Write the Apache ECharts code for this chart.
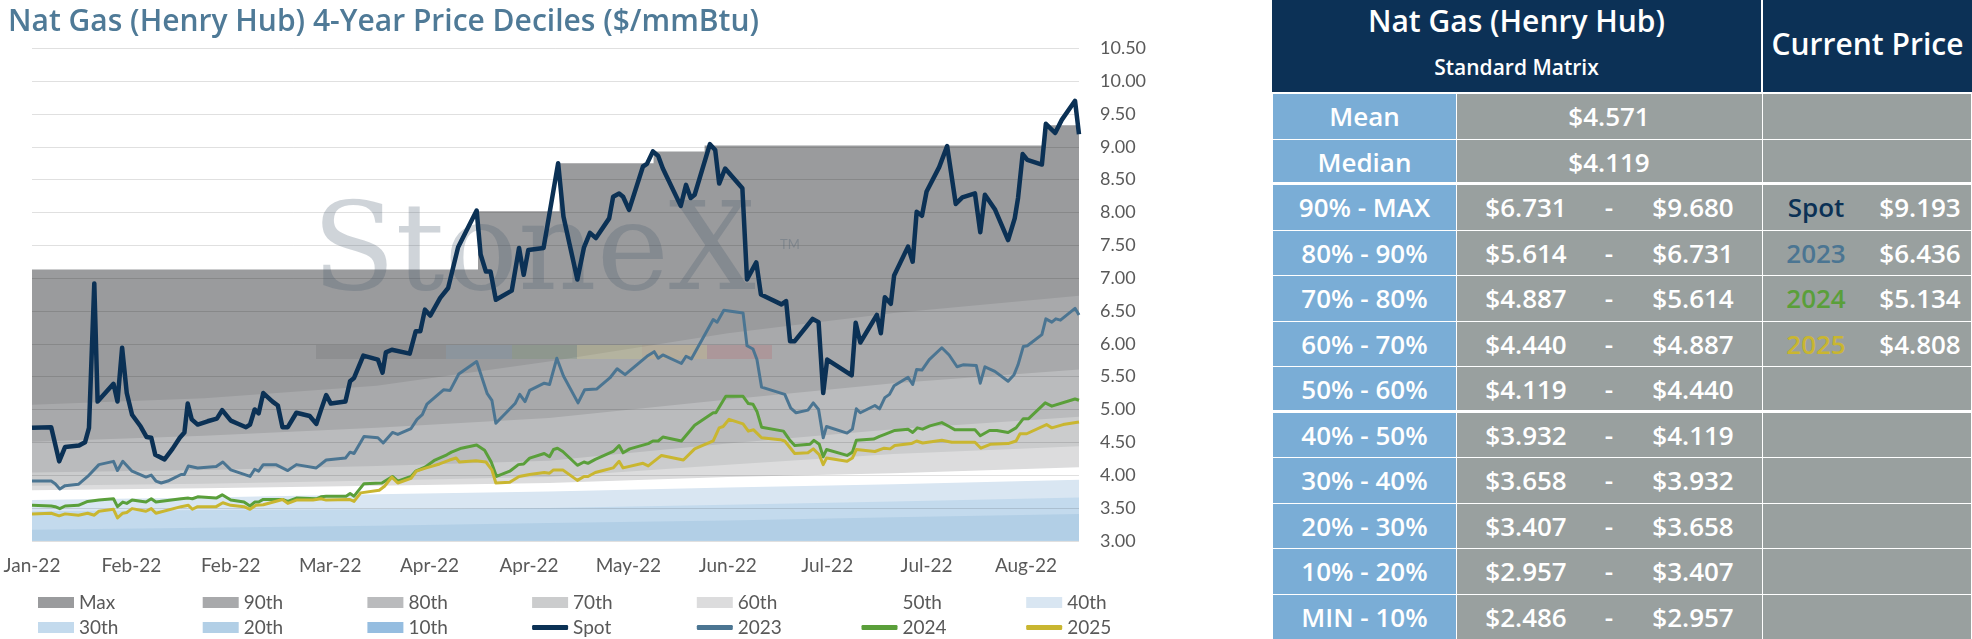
<!DOCTYPE html>
<html>
<head>
<meta charset="utf-8">
<script src="https://cdn.jsdelivr.net/npm/echarts@6.0.0/dist/echarts.min.js"></script>
<style>
html, body { margin: 0; padding: 0; background: #fff; }
#chart { position: absolute; left: 0; top: 0; width: 1265px; height: 639px; }
#matrix { position: absolute; left: 1272px; top: 0; width: 700px; height: 639px; font-family: 'Open Sans', sans-serif; font-weight: 600; color: #fff; }
#matrix div { position: absolute; box-sizing: border-box; white-space: nowrap; }
.cell { border: 1px solid #fff; }
.t { transform: translateX(-50%); }
</style>
</head>
<body>
<div id="chart"></div>
<div id="matrix"></div>
<script>
// x axis is trading-day index from the first date; labels every 15 days
var tickLabels = ['Jan-22', 'Feb-22', 'Feb-22', 'Mar-22', 'Apr-22', 'Apr-22', 'May-22', 'Jun-22', 'Jul-22', 'Jul-22', 'Aug-22'];
var lastDay = 158;

// decile bands, read at these day indices
var bandDays = [0, 26, 52, 78, 105, 130, 158];
var p90 = [5.07, 5.17, 5.36, 5.73, 6.16, 6.47, 6.73];
var p80 = [4.51, 4.60, 4.72, 4.87, 5.15, 5.40, 5.61];
var p70 = [4.04, 4.08, 4.14, 4.22, 4.48, 4.70, 4.89];
var p60 = [3.84, 3.87, 3.92, 3.97, 4.16, 4.32, 4.44];
var p50 = [3.77, 3.80, 3.84, 3.88, 3.97, 4.03, 4.12];
var p40 = [3.62, 3.66, 3.71, 3.75, 3.81, 3.86, 3.93];
var p30 = [3.45, 3.47, 3.48, 3.50, 3.55, 3.60, 3.66];
var p20 = [3.17, 3.20, 3.23, 3.27, 3.31, 3.36, 3.41];
var p10 = [2.80, 2.83, 2.86, 2.89, 2.92, 2.94, 2.96];
// running max steps up when a new high is set
var pMax = [[0, 7.13], [67.3, 8.02], [79.6, 8.75], [93.8, 8.93], [101.5, 9.02], [152.7, 9.33], [158, 9.33]];

var spot = [[0,4.72],[2.9,4.73],[4.1,4.21],[5.0,4.43],[7.1,4.45],[8.0,4.50],[8.6,4.72],[9.4,6.92],[9.9,5.12],[12.3,5.39],[12.9,5.12],[13.6,5.94],[14.3,5.25],[15.1,4.92],[16.4,4.74],[17.3,4.58],[18.0,4.57],[18.6,4.31],[20.0,4.24],[21.2,4.40],[22.3,4.57],[23.0,4.65],[23.5,5.09],[24.1,4.85],[25.0,4.77],[26.5,4.82],[27.9,4.86],[28.7,4.99],[30.0,4.83],[30.9,4.79],[32.3,4.73],[32.9,4.77],[33.6,5.00],[34.2,4.94],[34.9,5.25],[36.3,5.12],[37.1,5.06],[37.8,4.73],[38.6,4.73],[39.9,4.95],[41.9,4.90],[42.9,4.78],[43.6,4.99],[44.4,5.22],[45.1,5.09],[47.3,5.12],[48.0,5.43],[48.6,5.48],[50.0,5.82],[52.2,5.76],[52.9,5.56],[53.4,5.87],[54.3,5.91],[57.0,5.85],[57.9,6.19],[58.6,6.19],[59.3,6.52],[60.1,6.43],[61.6,6.70],[62.8,6.85],[64.3,7.47],[67.1,8.03],[67.7,7.36],[68.5,7.10],[69.2,7.10],[70.0,6.67],[72.4,6.81],[73.5,7.46],[74.2,7.05],[74.9,7.43],[77.2,7.46],[79.4,8.75],[80.2,7.94],[82.3,6.98],[83.3,7.47],[84.2,7.69],[85.1,7.61],[87.1,7.91],[87.7,8.24],[88.6,8.29],[89.2,8.24],[90.1,8.04],[92.2,8.70],[92.8,8.74],[93.7,8.93],[94.5,8.86],[95.2,8.67],[97.9,8.10],[98.7,8.42],[99.4,8.22],[100.0,8.27],[102.3,9.04],[103.1,8.95],[103.7,8.44],[104.6,8.67],[107.2,8.37],[107.9,6.98],[109.3,7.24],[110.0,6.75],[113.1,6.60],[113.8,6.65],[114.4,6.04],[115.1,6.04],[117.8,6.38],[118.7,6.33],[119.4,5.25],[120.0,5.76],[123.7,5.52],[124.3,6.32],[125.0,6.02],[127.5,6.44],[128.1,6.16],[128.7,6.71],[129.6,6.61],[130.1,7.04],[132.2,7.48],[132.9,7.25],[133.5,8.01],[134.3,7.95],[135.0,8.32],[136.9,8.69],[138.1,9.01],[139.4,8.13],[140.4,8.23],[142.3,8.29],[143.1,7.70],[143.8,8.27],[145.3,8.05],[147.3,7.58],[148.3,7.91],[148.8,8.22],[149.5,8.89],[150.2,8.80],[152.4,8.73],[153.0,9.35],[154.4,9.21],[155.4,9.41],[157.4,9.70],[158.0,9.19]];

var y2023 = [[0,3.91],[2.9,3.91],[3.5,3.87],[4.2,3.79],[5.0,3.84],[7.0,3.86],[8.4,3.98],[10.1,4.16],[12.3,4.21],[12.9,4.07],[13.7,4.21],[15.1,4.06],[17.2,3.97],[18.0,4.00],[18.7,3.91],[19.5,3.88],[20.5,3.91],[22.5,4.01],[23.0,4.01],[23.6,4.14],[25.0,4.11],[27.8,4.13],[28.8,4.20],[30.0,4.08],[32.9,3.98],[33.6,4.09],[34.2,4.06],[34.9,4.16],[36.8,4.16],[38.6,4.07],[39.9,4.16],[42.9,4.11],[44.4,4.23],[47.3,4.26],[48.0,4.35],[48.6,4.33],[50.1,4.59],[52.2,4.57],[53.0,4.49],[54.4,4.65],[55.2,4.62],[57.2,4.71],[58.1,4.85],[58.9,4.92],[59.6,5.08],[62.1,5.30],[63.1,5.29],[64.4,5.54],[67.1,5.73],[68.7,5.24],[69.4,5.14],[70.0,4.79],[72.9,5.09],[73.6,5.23],[74.4,5.12],[75.1,5.29],[77.3,5.40],[78.1,5.38],[79.2,5.78],[80.2,5.51],[82.4,5.10],[83.4,5.30],[85.2,5.31],[87.2,5.48],[88.3,5.62],[89.5,5.53],[92.8,5.81],[93.9,5.88],[94.5,5.78],[95.2,5.83],[98.0,5.70],[98.7,5.81],[99.5,5.77],[102.8,6.37],[103.4,6.33],[104.4,6.51],[107.3,6.47],[107.9,5.97],[108.8,5.92],[109.4,5.76],[110.1,5.34],[113.6,5.23],[114.5,5.02],[115.3,4.95],[117.1,4.99],[117.9,5.10],[118.7,5.00],[119.4,4.57],[119.9,4.74],[123.0,4.64],[123.8,4.70],[124.4,5.01],[125.0,4.95],[127.2,5.06],[127.9,5.01],[128.7,5.18],[129.4,5.23],[130.1,5.36],[132.2,5.49],[132.9,5.38],[133.5,5.61],[134.3,5.60],[135.4,5.76],[137.3,5.94],[138.4,5.83],[139.6,5.65],[140.5,5.68],[142.5,5.67],[143.1,5.40],[143.8,5.65],[145.3,5.58],[147.3,5.43],[148.2,5.53],[148.8,5.68],[149.6,5.96],[150.2,5.97],[152.4,6.14],[153.0,6.38],[153.9,6.33],[154.5,6.38],[155.2,6.36],[157.4,6.54],[158.0,6.44]];

var y2024 = [[0,3.54],[2.9,3.53],[3.5,3.52],[4.2,3.49],[5.0,3.53],[7.0,3.54],[8.4,3.60],[10.1,3.62],[12.3,3.64],[12.9,3.52],[13.7,3.59],[14.3,3.57],[15.1,3.62],[17.2,3.59],[18.0,3.64],[18.7,3.59],[22.5,3.64],[23.6,3.65],[24.2,3.64],[25.0,3.67],[27.8,3.65],[28.7,3.70],[30.0,3.62],[32.0,3.59],[32.9,3.53],[33.6,3.59],[34.2,3.59],[34.9,3.63],[37.8,3.63],[38.6,3.60],[39.9,3.65],[42.9,3.64],[43.6,3.67],[44.4,3.68],[47.4,3.68],[48.0,3.72],[48.6,3.68],[50.1,3.87],[52.8,3.88],[54.4,3.98],[55.2,3.91],[57.2,3.98],[57.9,4.06],[59.3,4.12],[60.8,4.23],[62.6,4.31],[63.3,4.35],[64.8,4.41],[67.1,4.46],[68.3,4.38],[69.3,4.20],[70.1,3.98],[72.1,4.06],[73.4,4.16],[74.2,4.17],[75.1,4.26],[77.3,4.33],[78.1,4.28],[78.7,4.39],[79.3,4.41],[80.1,4.36],[82.3,4.15],[83.3,4.20],[83.9,4.18],[85.0,4.24],[87.7,4.36],[88.6,4.45],[89.2,4.34],[90.2,4.40],[93.0,4.48],[93.7,4.52],[94.5,4.52],[95.2,4.58],[98.0,4.52],[100.0,4.76],[102.8,4.95],[103.2,4.95],[104.7,5.20],[107.3,5.20],[108.1,5.09],[108.8,5.08],[109.4,4.97],[110.1,4.73],[113.4,4.67],[114.3,4.54],[115.1,4.45],[117.4,4.47],[118.0,4.53],[118.8,4.47],[119.4,4.28],[119.9,4.39],[123.0,4.30],[123.8,4.35],[124.4,4.53],[127.0,4.55],[127.9,4.59],[128.7,4.62],[130.2,4.68],[132.2,4.70],[132.9,4.65],[133.6,4.72],[134.4,4.70],[135.5,4.75],[137.3,4.80],[138.4,4.74],[139.3,4.69],[142.3,4.69],[143.1,4.60],[144.5,4.68],[145.6,4.68],[147.3,4.65],[148.5,4.72],[149.6,4.86],[150.4,4.86],[152.9,5.10],[153.9,5.05],[157.4,5.16],[158.0,5.14]];

var y2025 = [[0,3.41],[2.9,3.42],[4.1,3.38],[5.0,3.41],[7.0,3.39],[8.4,3.42],[9.4,3.39],[10.1,3.45],[12.3,3.48],[12.9,3.35],[13.7,3.42],[14.3,3.43],[15.1,3.49],[17.2,3.45],[18.0,3.49],[18.7,3.42],[22.5,3.52],[23.6,3.54],[24.2,3.48],[25.0,3.52],[27.8,3.52],[28.8,3.58],[30.0,3.54],[32.0,3.52],[32.9,3.48],[33.8,3.54],[34.9,3.55],[37.8,3.63],[38.6,3.57],[39.9,3.62],[42.4,3.62],[43.6,3.64],[44.4,3.62],[47.9,3.63],[48.6,3.60],[49.6,3.73],[52.4,3.77],[53.2,3.83],[54.3,3.97],[55.2,3.88],[57.2,3.95],[58.0,4.06],[59.5,4.11],[61.5,4.17],[63.0,4.23],[64.0,4.26],[64.5,4.20],[67.0,4.22],[68.5,4.20],[69.4,4.08],[70.0,3.88],[72.1,3.89],[73.5,3.98],[75.1,4.01],[77.3,4.04],[78.1,4.03],[78.7,4.08],[80.1,4.08],[82.3,3.92],[83.3,3.98],[83.9,3.98],[85.0,4.04],[87.7,4.11],[88.6,4.21],[89.2,4.11],[92.2,4.18],[93.0,4.14],[95.0,4.30],[98.3,4.23],[100.0,4.40],[102.8,4.52],[103.7,4.72],[104.3,4.74],[105.2,4.85],[107.3,4.78],[108.1,4.67],[108.9,4.69],[110.1,4.57],[112.9,4.54],[113.6,4.52],[115.1,4.33],[117.1,4.34],[117.9,4.40],[118.8,4.31],[119.4,4.16],[119.9,4.26],[123.0,4.21],[123.8,4.26],[124.4,4.39],[127.2,4.36],[128.6,4.41],[129.5,4.40],[130.2,4.45],[132.7,4.48],[133.5,4.52],[134.4,4.49],[137.3,4.53],[138.8,4.50],[142.3,4.50],[143.2,4.41],[144.6,4.47],[147.3,4.48],[148.5,4.52],[149.1,4.63],[150.1,4.63],[153.1,4.77],[153.9,4.72],[155.6,4.77],[158.0,4.81]];

// legend order (two rows of seven)
var legendNames = ['Max', '90th', '80th', '70th', '60th', '50th', '40th', '30th', '20th', '10th', 'Spot', '2023', '2024', '2025'];
var colors = {
  'Max': '#9a9b9d', '90th': '#a8a9ab', '80th': '#babbbd', '70th': '#cbcccd', '60th': '#dcdcdd',
  '50th': '#ffffff', '40th': '#d9e6f2', '30th': '#c3daed', '20th': '#b2cfe6', '10th': '#95bde0',
  'Spot': '#0b3155', '2023': '#4b7592', '2024': '#5a9f3a', '2025': '#c9b630'
};
var lineNames = ['Spot', '2023', '2024', '2025'];

// standard matrix
var rowLabels = ['Mean', 'Median', '90% - MAX', '80% - 90%', '70% - 80%', '60% - 70%', '50% - 60%', '40% - 50%', '30% - 40%', '20% - 30%', '10% - 20%', 'MIN - 10%'];
var rowLow = [4.571, 4.119, 6.731, 5.614, 4.887, 4.440, 4.119, 3.932, 3.658, 3.407, 2.957, 2.486];
var rowHigh = [null, null, 9.680, 6.731, 5.614, 4.887, 4.440, 4.119, 3.932, 3.658, 3.407, 2.957];
var currentNames = ['Spot', '2023', '2024', '2025'];
var currentPrices = [9.193, 6.436, 5.134, 4.808];

function pairs(xs, ys) {
  return xs.map(function (x, i) { return [x, ys[i]]; });
}

function band(name, data, step) {
  return {
    name: name, type: 'line', data: data, step: step || false,
    showSymbol: false, symbol: 'none', silent: true, z: 1,
    color: colors[name],
    lineStyle: { width: 0 },
    areaStyle: { color: colors[name], opacity: 1, origin: 'start' }
  };
}

function line(name, data, width) {
  return {
    name: name, type: 'line', data: data,
    showSymbol: false, symbol: 'none', silent: true, z: 5,
    color: colors[name],
    lineStyle: { width: width, color: colors[name], join: 'round' }
  };
}

var series = [
  band('Max', pMax, 'end'),
  band('90th', pairs(bandDays, p90)),
  band('80th', pairs(bandDays, p80)),
  band('70th', pairs(bandDays, p70)),
  band('60th', pairs(bandDays, p60)),
  band('50th', pairs(bandDays, p50)),
  band('40th', pairs(bandDays, p40)),
  band('30th', pairs(bandDays, p30)),
  band('20th', pairs(bandDays, p20)),
  band('10th', pairs(bandDays, p10)),
  line('Spot', spot, 4.5),
  line('2023', y2023, 3),
  line('2024', y2024, 3),
  line('2025', y2025, 3)
];

var legends = legendNames.map(function (n, i) {
  var isLine = lineNames.indexOf(n) >= 0;
  return {
    data: [{ name: n, icon: isLine ? 'roundRect' : 'rect', itemStyle: { color: colors[n], borderWidth: 0 } }],
    left: 38 + (i % 7) * 164.7,
    top: i < 7 ? 593 : 618,
    padding: 0,
    itemWidth: 36,
    itemHeight: isLine ? 5 : 11,
    selectedMode: false,
    textStyle: { color: '#595959', fontSize: 19, fontFamily: 'Lato' }
  };
});

// faint StoneX watermark behind the lines
var barSpans = [[316, 446, 'rgba(80,82,86,0.16)'], [446, 512, 'rgba(70,120,160,0.16)'], [512, 577, 'rgba(80,130,70,0.16)'],
  [577, 642, 'rgba(225,215,120,0.22)'], [642, 707, 'rgba(225,180,100,0.22)'], [707, 772, 'rgba(190,80,90,0.2)']];
var graphics = [
  { type: 'text', x: 312, y: 318, z: 3, silent: true,
    style: { text: 'StoneX', font: '122px "DejaVu Serif"', fill: 'rgba(70,88,108,0.26)', verticalAlign: 'bottom' } },
  { type: 'text', x: 780, y: 238, z: 3, silent: true,
    style: { text: 'TM', font: '13px Lato', fill: 'rgba(70,88,108,0.3)' } }
].concat(barSpans.map(function (b) {
  return { type: 'rect', z: 3, silent: true, shape: { x: b[0], y: 345, width: b[1] - b[0], height: 14 }, style: { fill: b[2] } };
}));

var chart = echarts.init(document.getElementById('chart'));
chart.setOption({
  animation: false,
  textStyle: { fontFamily: 'Lato' },
  title: {
    text: 'Nat Gas (Henry Hub) 4-Year Price Deciles ($/mmBtu)',
    left: 3, top: 2,
    textStyle: { fontSize: 30, fontWeight: 600, color: '#4f7a97', fontFamily: 'Open Sans' }
  },
  grid: { left: 32, right: 186, top: 48.3, bottom: 98.2, outerBoundsMode: 'none' },
  xAxis: {
    type: 'value', min: 0, max: lastDay, interval: 15,
    axisLine: { show: false }, axisTick: { show: false }, splitLine: { show: false },
    axisLabel: {
      color: '#595959', fontSize: 19, margin: 16, showMaxLabel: false,
      formatter: function (v) { return v % 15 === 0 ? tickLabels[v / 15] : ''; }
    }
  },
  yAxis: {
    type: 'value', position: 'right', min: 3, max: 10.5, interval: 0.5, z: 2,
    axisLine: { show: false }, axisTick: { show: false },
    splitLine: { lineStyle: { color: 'rgba(0,0,0,0.12)', width: 1 } },
    axisLabel: { color: '#595959', fontSize: 18, margin: 21, formatter: function (v) { return v.toFixed(2); } }
  },
  legend: legends,
  graphic: graphics,
  series: series
});

// matrix table on the right
(function () {
  var box = document.getElementById('matrix');
  var navy = '#0c3156', blue = '#7aadd6', grey = '#99a09f';
  function add(css, html, cls) {
    var d = document.createElement('div');
    if (cls) d.className = cls;
    d.style.cssText = css;
    if (html != null) d.innerHTML = html;
    box.appendChild(d);
    return d;
  }
  function money(v) { return '$' + v.toFixed(3); }

  add('left:0;top:0;width:489px;height:92px;background:' + navy + ';');
  add('left:491px;top:0;width:209px;height:92px;background:' + navy + ';');
  add('left:0;top:3px;width:489px;text-align:center;font-size:30px;line-height:36px;', 'Nat Gas (Henry Hub)');
  add('left:0;top:53px;width:489px;text-align:center;font-size:21px;line-height:28px;', 'Standard Matrix');
  add('left:491px;top:25px;width:209px;text-align:center;font-size:30px;line-height:38px;', 'Current Price');

  var top0 = 93, rowH = 45.5;
  rowLabels.forEach(function (lab, i) {
    var y = top0 + i * rowH;
    var bottomW = (i === 1 || i === 6) ? 3 : 1;
    var base = 'top:' + y + 'px;height:' + (rowH + 1) + 'px;border-bottom-width:' + bottomW + 'px;';
    var lh = 'line-height:' + (rowH - 1) + 'px;font-size:26px;';
    add(base + 'left:0;width:185px;background:' + blue + ';text-align:center;' + lh, lab, 'cell');
    var v = add(base + 'left:184px;width:307px;background:' + grey + ';' + lh, null, 'cell');
    var c = add(base + 'left:490px;width:210px;background:' + grey + ';' + lh, null, 'cell');
    if (rowHigh[i] == null) {
      v.innerHTML = '<div class="t" style="left:152px;top:0;">' + money(rowLow[i]) + '</div>';
    } else {
      v.innerHTML = '<div class="t" style="left:69px;top:0;">' + money(rowLow[i]) + '</div>' +
        '<div class="t" style="left:152px;top:0;">-</div>' +
        '<div class="t" style="left:236px;top:0;">' + money(rowHigh[i]) + '</div>';
    }
    var k = i - 2;
    if (k >= 0 && k < currentNames.length) {
      c.innerHTML = '<div class="t" style="left:53px;top:0;color:' + colors[currentNames[k]] + ';">' + currentNames[k] + '</div>' +
        '<div class="t" style="left:157px;top:0;">' + money(currentPrices[k]) + '</div>';
    }
  });
})();
</script>
</body>
</html>
